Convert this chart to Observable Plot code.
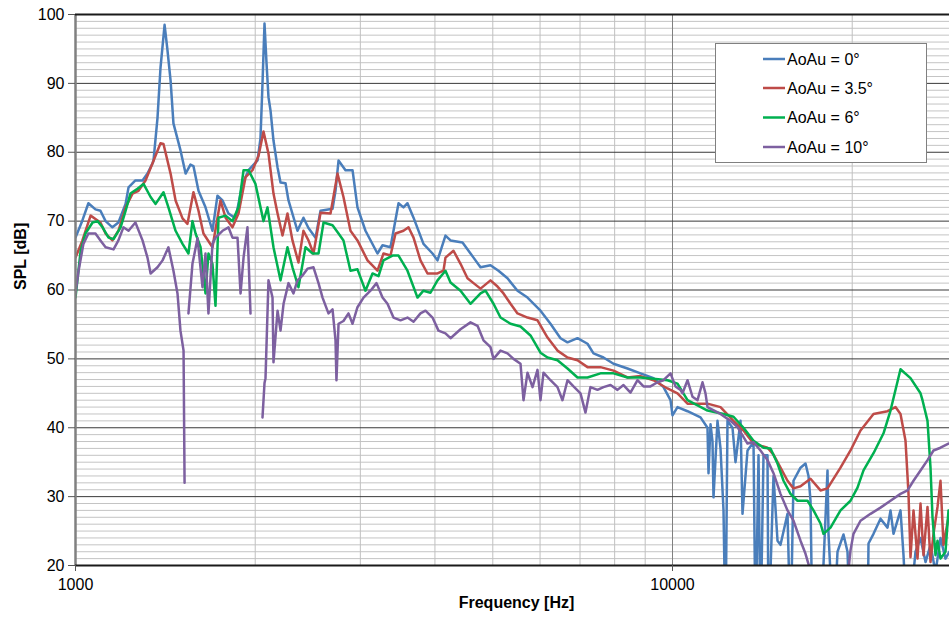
<!DOCTYPE html>
<html><head><meta charset="utf-8">
<script src="https://cdn.jsdelivr.net/npm/d3@7"></script>
<script src="https://cdn.jsdelivr.net/npm/@observablehq/plot@0.6"></script>
<style>body{margin:0;background:#fff;} #chart{position:relative;width:949px;height:620px;}</style>
</head><body><div id="chart"></div>
<script>
const seriesNames = ["AoAu = 0°", "AoAu = 3.5°", "AoAu = 6°", "AoAu = 10°"];
const seriesColors = ["#4A7EBB", "#BE4B48", "#00B050", "#7D60A0"];

const freq0 = [1000,1027,1051,1080,1101,1123,1153,1180,1213,1227,1260,1295,1320,1346,1351,1372,1388,1410,1425,1443,1459,1499,1529,1558,1576,1607,1651,1696,1729,1763,1804,1854,1904,1949,2018,2041,2057,2073,2089,2105,2122,2146,2180,2205,2248,2274,2354,2409,2456,2524,2573,2695,2726,2758,2833,2911,2967,3060,3205,3268,3370,3476,3543,3598,3683,3827,3963,4040,4166,4248,4449,4642,4769,4956,5111,5292,5500,5716,6010,6246,6492,6670,6932,7205,7373,7663,7965,8406,8839,9293,9659,9923,10000,10195,10596,11141,11445,11490,11580,11668,11713,11895,12034,12174,12268,12363,12604,12751,12999,13099,13355,13668,13774,13934,14041,14205,14425,14481,14763,14993,15167,15583,15765,15947,16384,16703,16897,17028,17160,17697,18182,18252,18607,18897,19339,19640,19868,21215,21297,21712,22306,22917,23183,23453,24094,24375,24754,25530,26027,26535,27050,27577,28113,28660,29106];
const spl0 = [67.6,70.1,72.6,71.7,71.5,70,69.1,69.8,72.5,74.9,75.9,75.9,76.9,78.4,78.8,85,92.3,98.5,95,90.4,84.2,80.3,76.9,78.2,78,74.4,72,68.6,73.7,73,71.1,70.4,75.4,77.4,78.8,82,90,98.7,93,88,86,81.7,77.8,75.6,75.5,73,68.6,70.5,69,67.6,71.5,71.8,74.4,78.8,77.4,77.4,72,68.6,65.3,66.5,66.2,72.6,72,72.6,70.5,66.7,65.3,64.3,67.9,67.2,66.9,64.7,63.3,63.6,62.8,61.7,59.9,58.9,57,55.1,53,52.4,53,52.2,50.8,50.2,49.3,48.6,47.9,47.2,45.9,44,41.8,43,42.4,41.5,40,33.4,40.5,38,29.9,41,37,28,10,41,40,35,41,27.5,36.7,37.9,10,36,10,36,36,10,33,23.6,23,27.5,10,32.3,34.2,34.8,33,29.4,10,10,33.8,24.6,10,22,24.5,22,10,10,23.2,24.6,26.8,25.5,28,24.6,28,21.5,10,22,24,20.5,23,19,24,21,22];

const freq1 = [1000,1027,1060,1080,1101,1123,1153,1180,1213,1246,1275,1310,1346,1388,1404,1443,1471,1511,1540,1576,1607,1638,1696,1749,1784,1832,1875,1927,1979,2026,2065,2105,2146,2180,2222,2265,2309,2363,2409,2456,2504,2573,2674,2747,2811,2888,2967,3084,3205,3280,3370,3436,3543,3612,3683,3783,3887,4040,4134,4166,4297,4415,4535,4642,4769,4956,5092,5211,5354,5500,5716,5941,6175,6417,6670,6932,7205,7575,7965,8406,8839,9293,9809,10195,10596,11445,12034,12653,13150,13668,14425,14763,15167,15583,15947,16384,17028,17697,18182,19117,19868,20650,21712,22917,23634,24094,24564,24850,25042,25333,25727,26027,26329,26739,27050,27365,27791,28113,28440,28994];
const spl1 = [64.7,67.2,70.8,70.3,69.8,68.2,67.2,68.6,72,74,74.4,75.9,78.4,81.3,81.2,76.9,73,70.4,69.6,74.2,71.5,68.2,66.2,73,70.5,69.1,71.1,76.4,77.4,79.5,83,79.8,74,71.1,67.9,71.1,67.2,64,68.6,67.2,65.3,71.2,71.1,76.9,73.5,68.6,67.2,64.3,62.8,65.3,65,68.2,68.6,69.1,67.6,64.3,62.4,62.4,62.8,64.7,65.7,63.8,61.7,61,60.2,61.4,60.5,59.5,58,56.6,56,55.6,53.1,51.2,50.2,49.8,48.8,48.8,48.3,47.3,47.5,46.9,45.7,45,43.5,43.5,43,41,39.6,37.7,37.1,36.1,34.2,32.3,31.2,31.5,32.6,30.9,31.2,34.2,36.7,39.6,42,42.4,43,42,38.1,30.4,21.2,28,21,29,21.5,28.5,20.5,24.6,28.5,32.3,23,27];

const freq2 = [1000,1020,1039,1068,1089,1110,1136,1158,1190,1213,1236,1270,1300,1336,1362,1404,1431,1471,1511,1546,1570,1589,1620,1651,1670,1696,1716,1736,1784,1832,1875,1912,1949,2002,2065,2097,2146,2205,2265,2309,2363,2428,2495,2553,2603,2695,2758,2811,2888,2967,3060,3144,3218,3280,3396,3476,3598,3740,3827,3932,4040,4166,4248,4415,4588,4769,4861,5014,5151,5354,5564,5783,6010,6175,6417,6670,6932,7205,7575,7965,8406,8839,9293,9809,10195,10596,11445,12174,12653,13150,13668,14205,14593,14993,15344,15765,16195,16832,17226,17697,17903,18393,19117,19868,20412,20890,21712,22566,23183,24094,25042,26027,26228,26739,27050,27259,27577,27791,28113,28660,28994];
const spl2 = [58.9,65.7,68.2,69.8,70,69.1,67.6,67.4,69.1,71.5,74,74.7,75.4,73.5,72.5,74.2,72,68.6,66.7,65.3,70,68.2,66.2,59.5,65.3,63.8,57.7,70.5,70.8,70,72,77.4,77.4,75.4,70,72,66.2,61.4,66.2,63.3,60.4,66.2,65.3,65.3,69.8,69.4,68.2,67.2,62.8,63,59.9,62.4,62,64.3,65,65,62.8,58.9,59.9,59.6,61.4,62.8,61.1,59.9,58,59.5,59.9,58,56,55.1,54.7,53.4,50.9,50.2,49.8,48.6,47.3,47.3,47.9,47.9,47.3,47.3,47.1,46.9,46.4,44,42.5,42,41.6,40,38.1,37.1,37,34.8,32.3,30.4,29.4,29.4,28,26.1,24.6,25.5,28,29.4,31.3,33.8,36.3,39.2,42.5,48.5,47.2,45,44,41,34.2,27,21.5,23.6,21,22,28];

const freq3 = [1000,1012,1031,1051,1080,1101,1123,1158,1180,1203,1227,1260,1295,1320,1336,1372,1399,1431,1459,1482,1499,1517,1523,1535,1546,1570,1601,1632,1651,1670,1696,1716,1763,1804,1832,1868,1890,1912,1941,1964,2010,2057,2073,2081,2105,2138,2146,2180,2205,2231,2274,2318,2354,2400,2447,2504,2553,2593,2653,2695,2726,2736,2758,2811,2866,2911,2967,3037,3120,3193,3268,3331,3409,3503,3598,3683,3783,3857,3963,4055,4166,4248,4415,4588,4714,4824,4956,5014,5151,5292,5416,5564,5629,5716,5828,5941,6010,6080,6246,6417,6542,6670,6826,7013,7149,7288,7488,7663,7873,8088,8278,8504,8737,8942,9186,9438,9659,9923,10116,10313,10393,10596,10802,11013,11227,11357,11445,12034,12507,12849,13355,13668,14041,14425,14763,15167,15583,15947,16384,16703,16897,17160,17697,18393,19117,19640,19868,20099,20650,21462,22306,23183,24094,24754,25333,26027,26739,27365,28113,28994];
const spl3 = [59.5,62.8,66.7,68.2,68.2,67.2,66.2,65.9,67.2,69.1,68.6,69.8,67.2,64.7,62.4,63.3,64.3,66.2,62.8,59.5,54.1,51.2,32,null,56.6,63.8,67.5,60.4,65.3,56.6,66.7,67.6,68.6,69.1,67.6,67.6,59.5,64.7,69.1,56.6,null,41.5,46.5,47.2,61.4,58.9,49.5,57,54.1,58,61,59.5,61.4,62.1,63.1,63.3,61,58.9,56.6,57.2,52.7,46.9,55.1,55.5,56.6,55.1,57.5,58.9,59.9,61,58.9,58,56,55.6,56,55.4,56.6,57,56,54.1,53.7,53,54.3,55.3,54.8,52.7,51.7,50,51.2,50.8,50,49.3,44,48,45.9,48.4,44,48,46.9,45.9,44,46.9,46,45,42.2,45.9,45.5,45.9,46.2,45.5,46.2,45.1,46.9,46,46,46.6,46.9,47.9,46,45.5,45,46.9,44.5,44,46.6,45,43,42,41,40.1,37.7,37.9,36.7,35.3,33.4,30.4,28,26.5,23.6,21.7,20.2,18,15,17,15,18,22.2,24.6,26.5,27.5,28.4,29.4,30.4,30.9,32.3,33.8,35.3,36.7,37.1,37.7];

const yMajor = [20, 30, 40, 50, 60, 70, 80, 90, 100];
const yMinor = d3.range(21, 100).filter(v => v % 10 !== 0);
const xTicks = [1000, 10000];
const xMinor = [2000, 3000, 4000, 5000, 6000, 7000, 8000, 9000, 20000];

const rows = [];
[[freq0, spl0], [freq1, spl1], [freq2, spl2], [freq3, spl3]].forEach(([fs, ss], i) => {
  fs.forEach((f, j) => rows.push({series: seriesNames[i], f, spl: ss[j]}));
});

const chart = Plot.plot({
  width: 949, height: 620,
  marginLeft: 75, marginRight: 0, marginTop: 14, marginBottom: 55,
  style: {fontFamily: "'Liberation Sans', Arial, sans-serif", fontSize: "16px", background: "#fff", color: "#000"},
  x: {type: "log", domain: [1000, 29106]},
  y: {domain: [20, 100]},
  color: {domain: seriesNames, range: seriesColors},
  marks: [
    Plot.ruleY(yMinor, {stroke: "#c4c4c4", strokeWidth: 1}),
    Plot.ruleX(xMinor, {stroke: "#c0c0c0", strokeWidth: 1}),
    Plot.ruleX([10000], {stroke: "#808080", strokeWidth: 1}),
    Plot.ruleY(yMajor, {stroke: "#3a3a3a", strokeWidth: 1}),
    Plot.line(rows, {x: "f", y: "spl", z: "series", stroke: "series", strokeWidth: 2.5, clip: true}),
    Plot.ruleX([1000], {stroke: "#808080", strokeWidth: 2.5}),
    Plot.ruleY([100], {stroke: "#1a1a1a", strokeWidth: 2}),
    Plot.ruleY([20], {stroke: "#1a1a1a", strokeWidth: 2}),
    Plot.axisY({ticks: yMajor, tickSize: 7, tickPadding: 4, tickFormat: d => String(d), label: null, stroke: "#555"}),
    Plot.axisX({ticks: xTicks, tickSize: 6, tickPadding: 7, tickFormat: d => String(d), label: null, stroke: "#555"}),
    Plot.text(["SPL [dB]"], {frameAnchor: "left", dx: -55, rotate: -90, fontWeight: "bold", fontSize: 16}),
    Plot.text(["Frequency [Hz]"], {frameAnchor: "bottom", dx: 4, dy: 42, fontWeight: "bold", fontSize: 16})
  ]
});
document.getElementById("chart").appendChild(chart);

// legend box
const svg = d3.select(chart);
const lg = svg.append("g").attr("text-anchor", "start");
lg.append("rect").attr("x", 715.5).attr("y", 43.5).attr("width", 211).attr("height", 119)
  .attr("fill", "#fff").attr("stroke", "#808080").attr("stroke-width", 1);
const rowY = [59, 88, 117.5, 147];
seriesNames.forEach((name, i) => {
  lg.append("line").attr("x1", 763).attr("x2", 785).attr("y1", rowY[i]).attr("y2", rowY[i])
    .attr("stroke", seriesColors[i]).attr("stroke-width", 2.5);
  lg.append("text").attr("x", 787).attr("y", rowY[i]).attr("dy", "0.35em")
    .attr("text-anchor", "start").attr("font-size", 16).attr("fill", "#000").text(name);
});
</script>
</body></html>
